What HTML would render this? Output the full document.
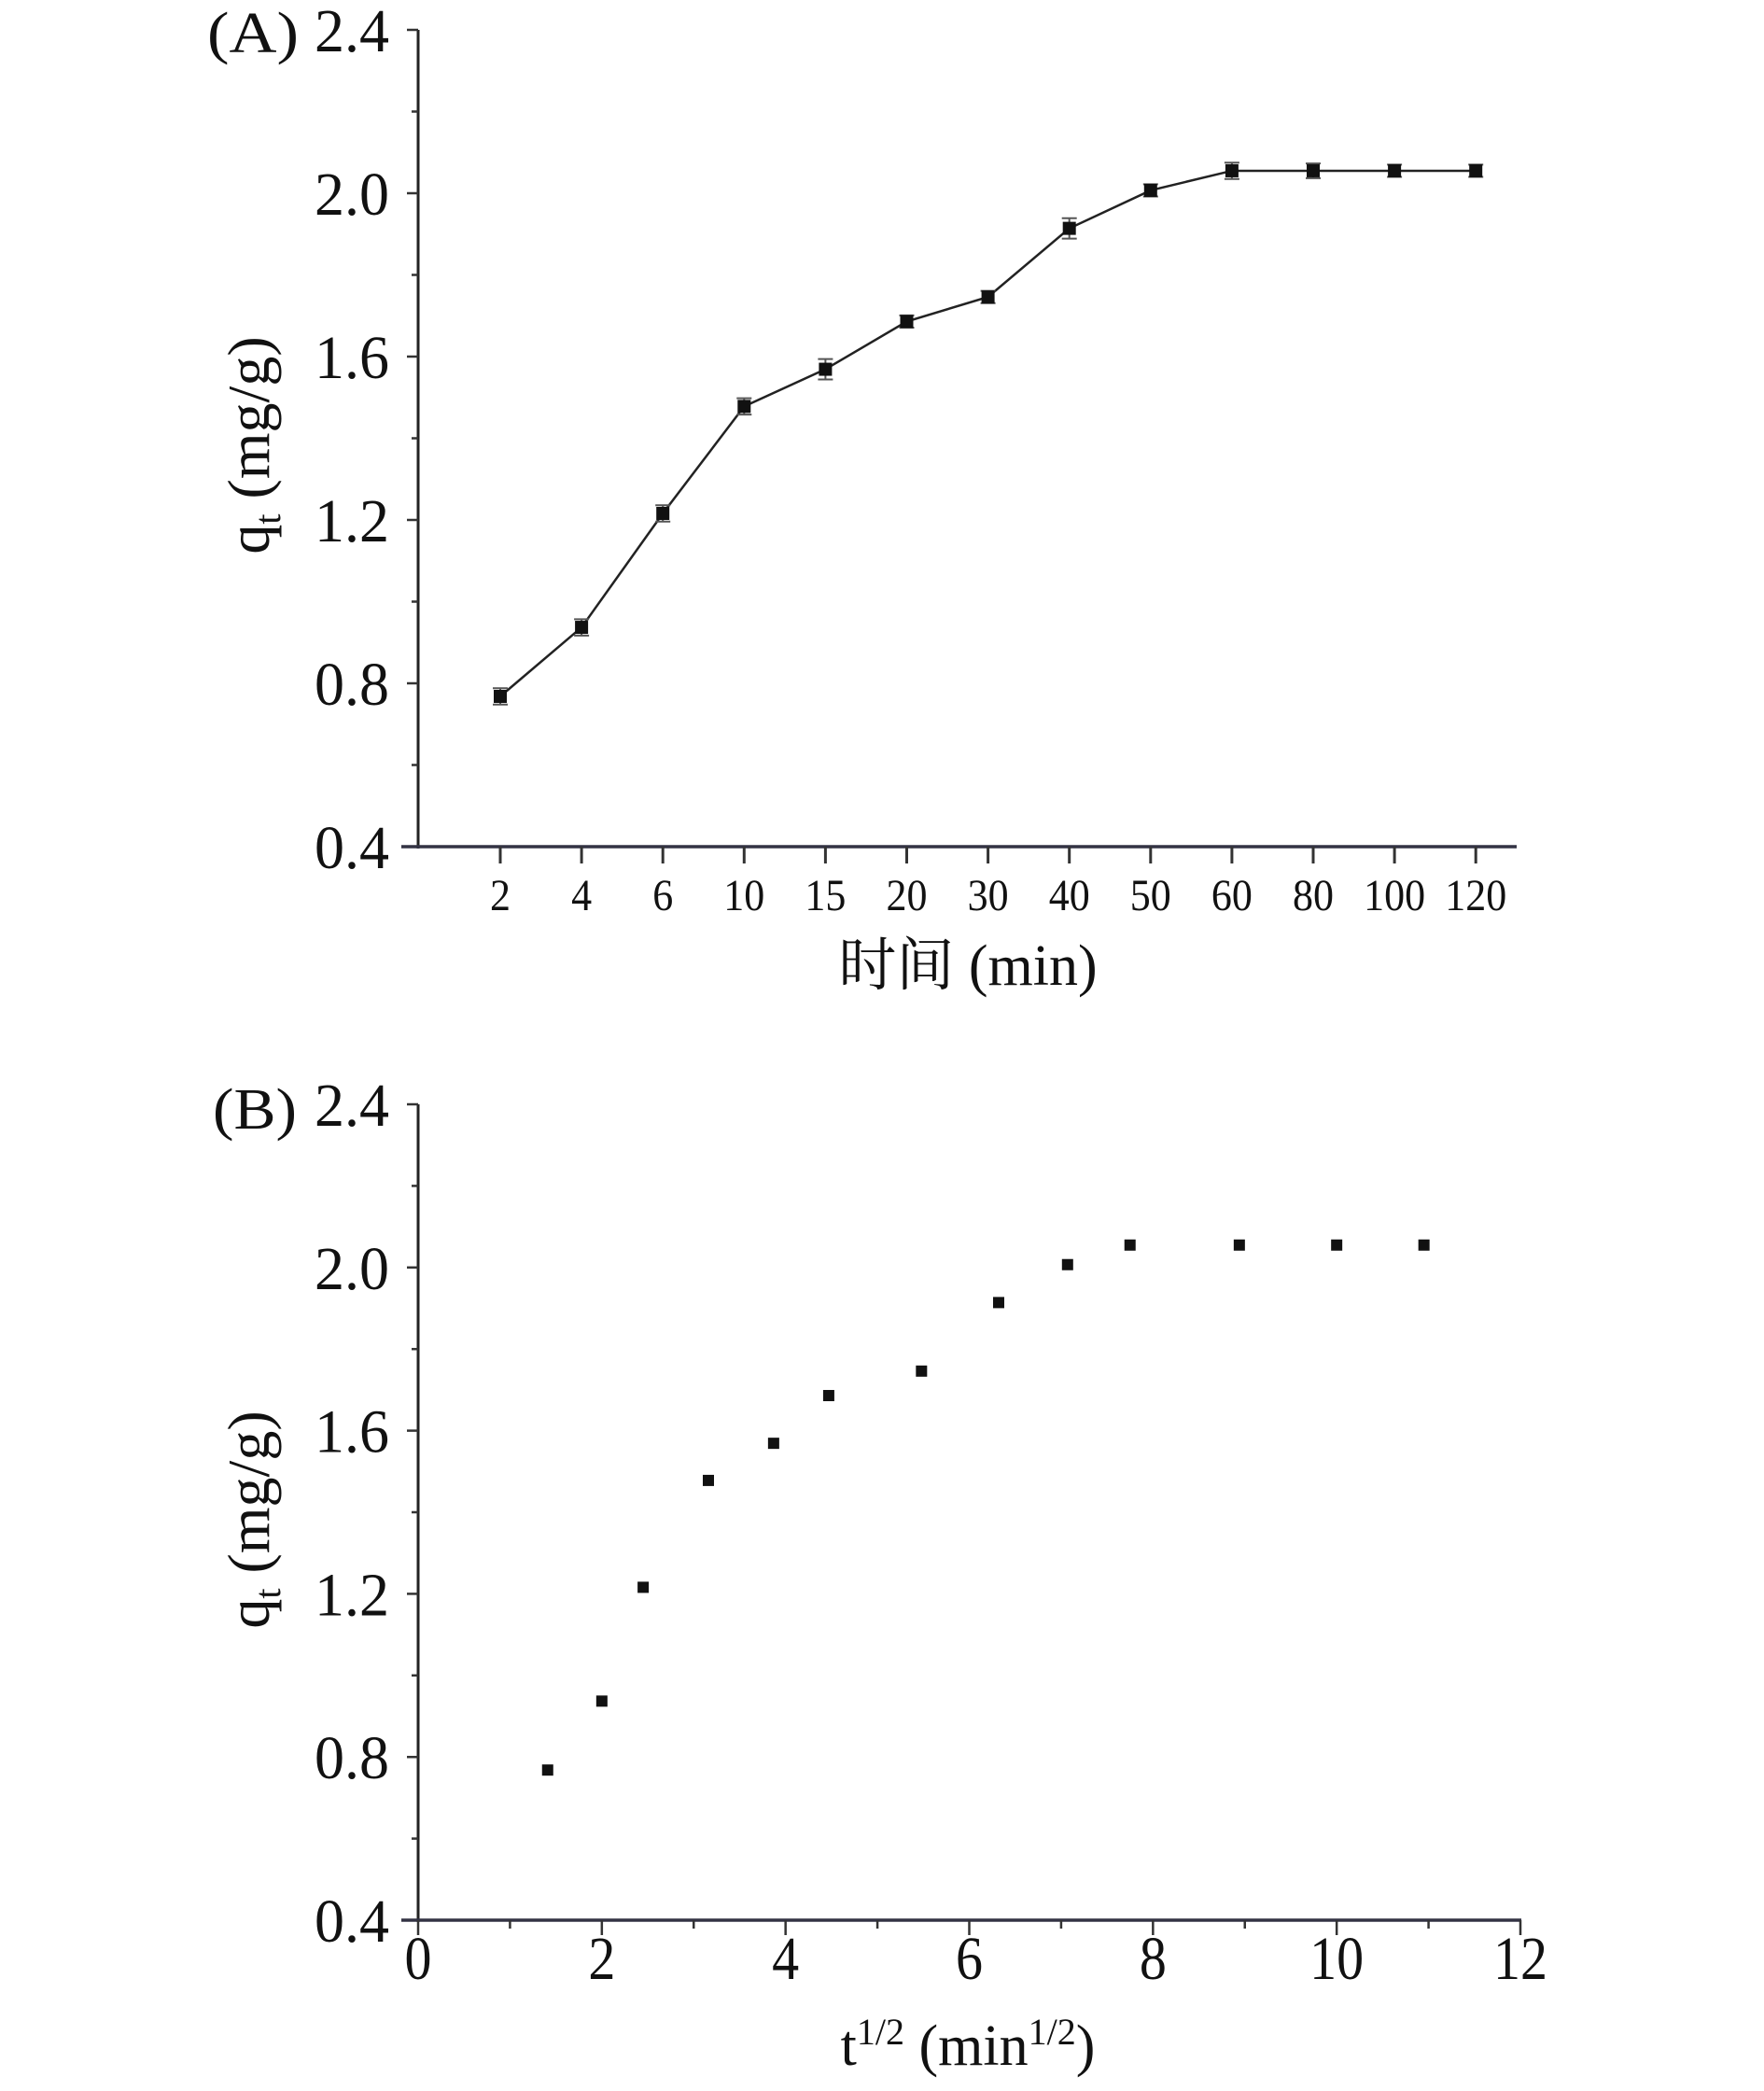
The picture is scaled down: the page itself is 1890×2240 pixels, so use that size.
<!DOCTYPE html>
<html><head><meta charset="utf-8"><style>
html,body{margin:0;padding:0;background:#fff;}
svg{display:block;}
text{font-family:"Liberation Serif","Noto Serif CJK SC",serif;fill:#111;}
</style></head><body>
<svg id="chart" width="1890" height="2240" viewBox="0 0 1890 2240" xmlns="http://www.w3.org/2000/svg">
<g id="panelA"></g>
<g id="panelB"></g>
</svg>
<script>
const timeCategories = ["2","4","6","10","15","20","30","40","50","60","80","100","120"];
const qtValues = [0.768,0.937,1.216,1.478,1.569,1.686,1.746,1.914,2.007,2.055,2.055,2.055,2.055];
const qtErrors = [0.02,0.02,0.02,0.02,0.025,0.015,0.015,0.025,0.015,0.02,0.018,0.015,0.015];
const sqrtT = [1.41,2.0,2.45,3.16,3.87,4.47,5.48,6.32,7.07,7.75,8.94,10.0,10.95];
const qtValuesB = [0.768,0.937,1.216,1.478,1.569,1.686,1.746,1.914,2.007,2.055,2.055,2.055,2.055];
const yTickLabels = ["0.4","0.8","1.2","1.6","2.0","2.4"];
const xTickLabelsB = ["0","2","4","6","8","10","12"];

const NS="http://www.w3.org/2000/svg";
function mk(parent,tag,attrs,text){const e=document.createElementNS(NS,tag);for(const k in attrs)e.setAttribute(k,attrs[k]);if(text!==undefined)e.textContent=text;parent.appendChild(e);return e;}

function drawYAxis(g,yScale,top,bottom,name){
  const ax=mk(g,'line',{x1:448,y1:top,x2:448,y2:bottom+2,stroke:'#222','stroke-width':3});
  
  
  for(let v=0.4;v<=2.401;v+=0.2){
    const y=yScale(v); const major=Math.round(v*10)%4===0;
    const t=mk(g,'line',{x1:major?436:441,y1:y,x2:448,y2:y,stroke:'#333','stroke-width':2.5});
    
    
  }
  yTickLabels.forEach(l=>{
    const y=yScale(parseFloat(l));
    const tx=mk(g,'text',{x:417,y:y+23,'text-anchor':'end','font-size':66,textLength:80,lengthAdjust:'spacingAndGlyphs'},l);
    
    
  });
}
function yTitle(g,cy,name){
  const t=mk(g,'text',{x:0,y:0,'font-size':64,'text-anchor':'middle',transform:`translate(288,${cy}) rotate(-90)`});
  
  
  t.innerHTML='q<tspan font-size="40" dy="12">t</tspan><tspan dy="-12"> (mg/g)</tspan>';
}

// Panel A
(function(){
  const g=document.getElementById('panelA');
  const top=32,bottom=907;
  const yS=v=>bottom-(v-0.4)/2.0*(bottom-top);
  const xS=i=>536+i*87.1;
  drawYAxis(g,yS,top,bottom,'panel-a');
  const xa=mk(g,'line',{x1:430,y1:bottom,x2:1625,y2:bottom,stroke:'#334','stroke-width':3.5});
  
  
  timeCategories.forEach((c,i)=>{
    const t=mk(g,'line',{x1:xS(i),y1:bottom,x2:xS(i),y2:bottom+18,stroke:'#333','stroke-width':3});
    
    
    const tx=mk(g,'text',{x:xS(i),y:975,'text-anchor':'middle','font-size':48,textLength:c.length*22,lengthAdjust:'spacingAndGlyphs'},c);
    
    
  });
  const pts=qtValues.map((v,i)=>xS(i)+','+yS(v)).join(' ');
  const pl=mk(g,'polyline',{points:pts,fill:'none',stroke:'#222','stroke-width':2.5});
  
  
  qtValues.forEach((v,i)=>{
    const x=xS(i),y1=yS(v+qtErrors[i]),y2=yS(v-qtErrors[i]);
    const eb=mk(g,'path',{d:`M${x},${y1}V${y2}M${x-8},${y1}H${x+8}M${x-8},${y2}H${x+8}`,stroke:'#555','stroke-width':2,fill:'none'});
    
    
    const r=mk(g,'rect',{x:x-7,y:yS(v)-7,width:14,height:14,fill:'#111'});
    
    
  });
  const lab=mk(g,'text',{x:222,y:56,'font-size':62,textLength:98,lengthAdjust:'spacingAndGlyphs'},'(A)');
  
  
  const xt=mk(g,'text',{x:1037,y:1055,'text-anchor':'middle','font-size':62},'时间 (min)');
  
  
  yTitle(g,477,'panel-a');
})();

// Panel B
(function(){
  const g=document.getElementById('panelB');
  const top=1183,bottom=2057;
  const yS=v=>bottom-(v-0.4)/2.0*(bottom-top);
  const xS=v=>448+v*(1629-448)/12;
  drawYAxis(g,yS,top,bottom,'panel-b');
  const xa=mk(g,'line',{x1:430,y1:bottom,x2:1630,y2:bottom,stroke:'#334','stroke-width':3.5});
  
  
  for(let v=0;v<=12;v++){
    const t=mk(g,'line',{x1:xS(v),y1:bottom,x2:xS(v),y2:bottom+(v%2===0?16:9),stroke:'#333','stroke-width':2.5});
    
    
  }
  xTickLabelsB.forEach(l=>{
    const tx=mk(g,'text',{x:xS(parseFloat(l)),y:2120,'text-anchor':'middle','font-size':66,textLength:l.length*29,lengthAdjust:'spacingAndGlyphs'},l);
    
    
  });
  sqrtT.forEach((x,i)=>{
    const r=mk(g,'rect',{x:xS(x)-6,y:yS(qtValuesB[i])-6,width:12,height:12,fill:'#111'});
    
    
  });
  const lab=mk(g,'text',{x:228,y:1209,'font-size':62,textLength:90,lengthAdjust:'spacingAndGlyphs'},'(B)');
  
  
  const xt=mk(g,'text',{x:1037,y:2212,'text-anchor':'middle','font-size':62});
  
  
  xt.innerHTML='t<tspan font-size="40" dy="-22">1/2</tspan><tspan dy="22"> (min</tspan><tspan font-size="40" dy="-22">1/2</tspan><tspan dy="22">)</tspan>';
  yTitle(g,1628,'panel-b');
})();
</script>
</body></html>
